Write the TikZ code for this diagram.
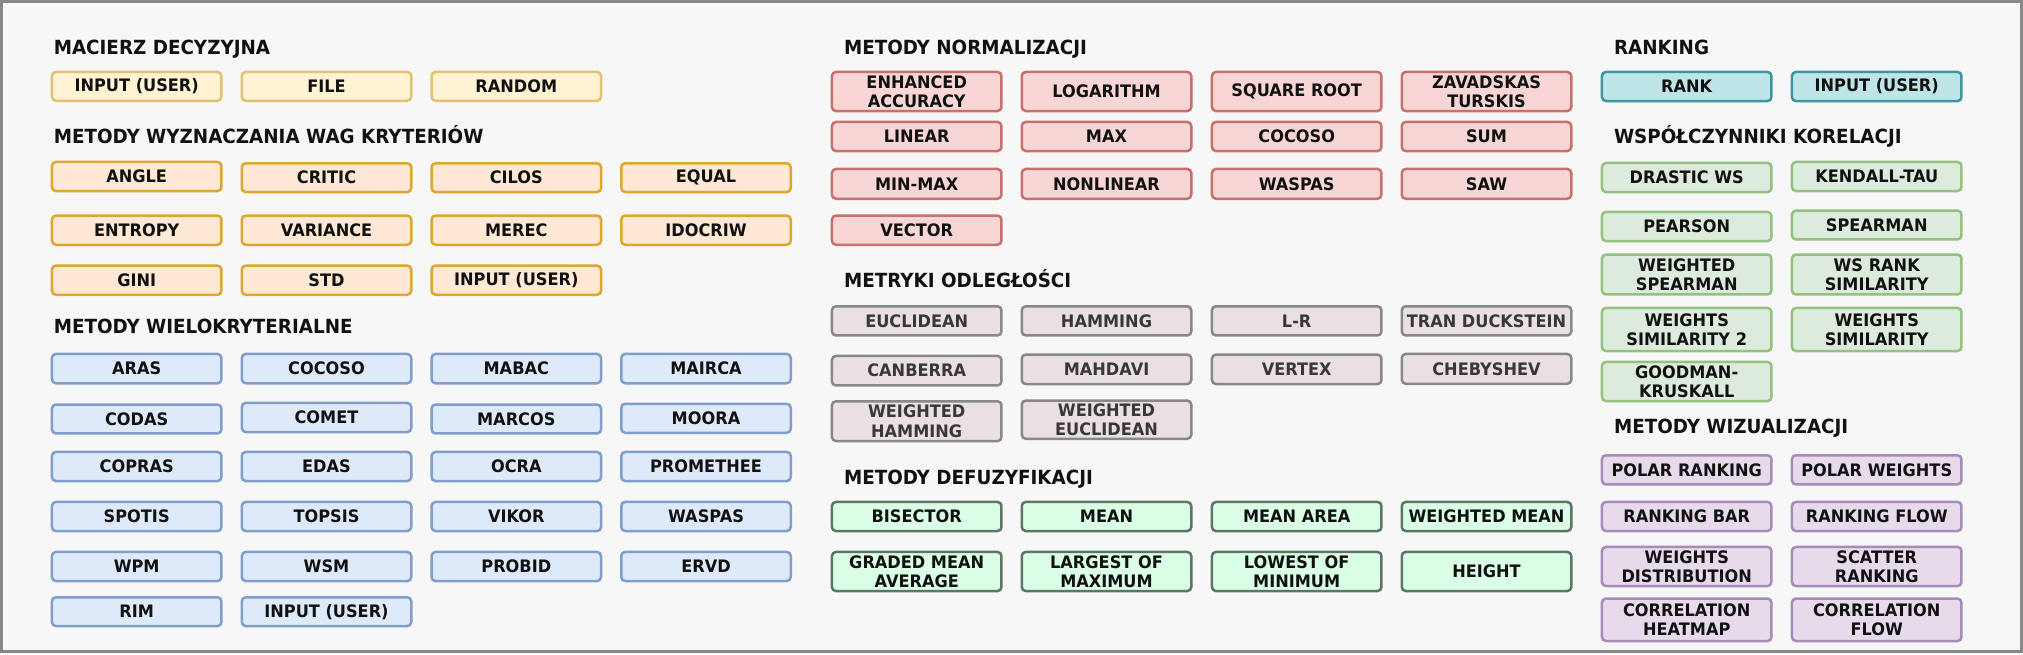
\documentclass[tikz,border=0pt]{standalone}
\usepackage{fontspec}
\setmainfont{DejaVu Sans}[FakeStretch=0.94]
\definecolor{bg}{HTML}{F7F7F7}
\definecolor{frameC}{HTML}{888888}
\definecolor{txt}{HTML}{111111}
\definecolor{txtG}{HTML}{383838}
\definecolor{yelF}{HTML}{FFF3D4}\definecolor{yelD}{HTML}{E0C270}
\definecolor{oraF}{HTML}{FFE9D4}\definecolor{oraD}{HTML}{DDA630}
\definecolor{bluF}{HTML}{DEEAFA}\definecolor{bluD}{HTML}{7F9ECB}
\definecolor{redF}{HTML}{F8D6D5}\definecolor{redD}{HTML}{C8706C}
\definecolor{gryF}{HTML}{EADFE5}\definecolor{gryD}{HTML}{888888}
\definecolor{mntF}{HTML}{DAFFE6}\definecolor{mntD}{HTML}{5E7565}
\definecolor{tealF}{HTML}{BEE6E9}\definecolor{tealD}{HTML}{3C969C}
\definecolor{grnF}{HTML}{DDEBDC}\definecolor{grnD}{HTML}{93C17E}
\definecolor{purF}{HTML}{E6DAEB}\definecolor{purD}{HTML}{A88BBB}
\newcommand\boxfont{\fontsize{17.2}{19.3}\selectfont\bfseries}
\newcommand\ttlfont{\fontsize{19.5}{22}\selectfont\bfseries}
\tikzset{
  box/.style={rounded corners=4pt, line width=2.5pt, inner sep=0pt, outer sep=0pt,
    minimum width=169.5pt, align=center, font=\boxfont, text=txt},
  yel/.style={box, draw=yelD, fill=yelF},
  ora/.style={box, draw=oraD, fill=oraF},
  blu/.style={box, draw=bluD, fill=bluF},
  red/.style={box, draw=redD, fill=redF},
  gry/.style={box, draw=gryD, fill=gryF, text=txtG},
  mnt/.style={box, draw=mntD, fill=mntF},
  teal/.style={box, draw=tealD, fill=tealF},
  grn/.style={box, draw=grnD, fill=grnF},
  pur/.style={box, draw=purD, fill=purF},
  ttl/.style={anchor=base west, inner sep=0pt, outer sep=0pt, font=\ttlfont, text=txt}
}
% name, style, left x, top y, bottom y, text
\newcommand\BoxAt[6]{\node[#2, minimum height={#5pt-#4pt-2.5pt}] (#1) at ({#3+86},{(#4+#5)/2}) {#6};}
\begin{document}
\begin{tikzpicture}[x=1pt,y=-1pt]
\useasboundingbox (0,0) rectangle (2023,654);
\fill[bg] (0,0) rectangle (2023,654);
\draw[frameC, line width=3pt] (1.5,1.5) rectangle (2021.5,651);
% ---------- column 1
\node[ttl] (t1) at (53.8,54) {MACIERZ DECYZYJNA};
\BoxAt{m1}{yel}{50.7}{70.7}{102}{INPUT (USER)}
\BoxAt{m2}{yel}{240.5}{70.7}{102}{FILE}
\BoxAt{m3}{yel}{430.3}{70.7}{102}{RANDOM}
\node[ttl] (t2) at (53.8,143.3) {METODY WYZNACZANIA WAG KRYTERIÓW};
\BoxAt{w1}{ora}{50.7}{160.7}{192.3}{ANGLE}
\BoxAt{w2}{ora}{240.5}{162}{193.3}{CRITIC}
\BoxAt{w3}{ora}{430.3}{162}{193.3}{CILOS}
\BoxAt{w4}{ora}{620}{162}{193.3}{EQUAL}
\BoxAt{w5}{ora}{50.7}{214.3}{246}{ENTROPY}
\BoxAt{w6}{ora}{240.5}{214.3}{246}{VARIANCE}
\BoxAt{w7}{ora}{430.3}{214.3}{246}{MEREC}
\BoxAt{w8}{ora}{620}{214.3}{246}{IDOCRIW}
\BoxAt{w9}{ora}{50.7}{264.3}{296}{GINI}
\BoxAt{w10}{ora}{240.5}{264.3}{296}{STD}
\BoxAt{w11}{ora}{430.3}{264.3}{296}{INPUT (USER)}
\node[ttl] (t3) at (53.8,333.3) {METODY WIELOKRYTERIALNE};
\BoxAt{c1}{blu}{50.7}{352.7}{384.5}{ARAS}
\BoxAt{c2}{blu}{240.5}{352.7}{384.5}{COCOSO}
\BoxAt{c3}{blu}{430.3}{352.7}{384.5}{MABAC}
\BoxAt{c4}{blu}{620}{352.7}{384.5}{MAIRCA}
\BoxAt{c5}{blu}{50.7}{403.3}{434.7}{CODAS}
\BoxAt{c6}{blu}{240.5}{401.7}{433.3}{COMET}
\BoxAt{c7}{blu}{430.3}{403.3}{434.7}{MARCOS}
\BoxAt{c8}{blu}{620}{402.5}{434}{MOORA}
\BoxAt{c9}{blu}{50.7}{450.7}{482.3}{COPRAS}
\BoxAt{c10}{blu}{240.5}{450.7}{482.3}{EDAS}
\BoxAt{c11}{blu}{430.3}{450.7}{482.3}{OCRA}
\BoxAt{c12}{blu}{620}{450.7}{482.3}{PROMETHEE}
\BoxAt{c13}{blu}{50.7}{500.7}{532.3}{SPOTIS}
\BoxAt{c14}{blu}{240.5}{500.7}{532.3}{TOPSIS}
\BoxAt{c15}{blu}{430.3}{500.7}{532.3}{VIKOR}
\BoxAt{c16}{blu}{620}{500.7}{532.3}{WASPAS}
\BoxAt{c17}{blu}{50.7}{550.7}{582.3}{WPM}
\BoxAt{c18}{blu}{240.5}{550.7}{582.3}{WSM}
\BoxAt{c19}{blu}{430.3}{550.7}{582.3}{PROBID}
\BoxAt{c20}{blu}{620}{550.7}{582.3}{ERVD}
\BoxAt{c21}{blu}{50.7}{596}{627.3}{RIM}
\BoxAt{c22}{blu}{240.5}{596}{627.3}{INPUT (USER)}
% ---------- column 2
\node[ttl] (t4) at (844,54) {METODY NORMALIZACJI};
\BoxAt{n1}{red}{830.7}{70.7}{112.3}{ENHANCED\\ACCURACY}
\BoxAt{n2}{red}{1020.5}{70.7}{112.3}{LOGARITHM}
\BoxAt{n3}{red}{1210.7}{70.7}{112.3}{SQUARE ROOT}
\BoxAt{n4}{red}{1400.5}{70.7}{112.3}{ZAVADSKAS\\TURSKIS}
\BoxAt{n5}{red}{830.7}{120.7}{152.3}{LINEAR}
\BoxAt{n6}{red}{1020.5}{120.7}{152.3}{MAX}
\BoxAt{n7}{red}{1210.7}{120.7}{152.3}{COCOSO}
\BoxAt{n8}{red}{1400.5}{120.7}{152.3}{SUM}
\BoxAt{n9}{red}{830.7}{167.7}{200}{MIN-MAX}
\BoxAt{n10}{red}{1020.5}{167.7}{200}{NONLINEAR}
\BoxAt{n11}{red}{1210.7}{167.7}{200}{WASPAS}
\BoxAt{n12}{red}{1400.5}{167.7}{200}{SAW}
\BoxAt{n13}{red}{830.7}{214.3}{246}{VECTOR}
\node[ttl] (t5) at (844,287.7) {METRYKI ODLEGŁOŚCI};
\BoxAt{d1}{gry}{830.7}{305}{336.7}{EUCLIDEAN}
\BoxAt{d2}{gry}{1020.5}{305}{336.7}{HAMMING}
\BoxAt{d3}{gry}{1210.7}{305}{336.7}{L-R}
\BoxAt{d4}{gry}{1400.5}{305}{336.7}{TRAN DUCKSTEIN}
\BoxAt{d5}{gry}{830.7}{354.7}{386.7}{CANBERRA}
\BoxAt{d6}{gry}{1020.5}{353.3}{385.3}{MAHDAVI}
\BoxAt{d7}{gry}{1210.7}{353.3}{385.3}{VERTEX}
\BoxAt{d8}{gry}{1400.5}{352.7}{385}{CHEBYSHEV}
\BoxAt{d9}{gry}{830.7}{400}{442.3}{WEIGHTED\\HAMMING}
\BoxAt{d10}{gry}{1020.5}{399.3}{440}{WEIGHTED\\EUCLIDEAN}
\node[ttl] (t6) at (844,484) {METODY DEFUZYFIKACJI};
\BoxAt{f1}{mnt}{830.7}{500.7}{532.3}{BISECTOR}
\BoxAt{f2}{mnt}{1020.5}{500.7}{532.3}{MEAN}
\BoxAt{f3}{mnt}{1210.7}{500.7}{532.3}{MEAN AREA}
\BoxAt{f4}{mnt}{1400.5}{500.7}{532.3}{WEIGHTED MEAN}
\BoxAt{f5}{mnt}{830.7}{550.7}{592.3}{GRADED MEAN\\AVERAGE}
\BoxAt{f6}{mnt}{1020.5}{550.7}{592.3}{LARGEST OF\\MAXIMUM}
\BoxAt{f7}{mnt}{1210.7}{550.7}{592.3}{LOWEST OF\\MINIMUM}
\BoxAt{f8}{mnt}{1400.5}{550.7}{592.3}{HEIGHT}
% ---------- column 3
\node[ttl] (t7) at (1614,54) {RANKING};
\BoxAt{r1}{teal}{1600.7}{70.7}{102.3}{RANK}
\BoxAt{r2}{teal}{1790.7}{70.7}{102.3}{INPUT (USER)}
\node[ttl] (t8) at (1614,143.3) {WSPÓŁCZYNNIKI KORELACJI};
\BoxAt{k1}{grn}{1600.7}{161.7}{193.3}{DRASTIC WS}
\BoxAt{k2}{grn}{1790.7}{160.7}{192.3}{KENDALL-TAU}
\BoxAt{k3}{grn}{1600.7}{210.7}{242.3}{PEARSON}
\BoxAt{k4}{grn}{1790.7}{209.3}{240.7}{SPEARMAN}
\BoxAt{k5}{grn}{1600.7}{253.3}{295.7}{WEIGHTED\\SPEARMAN}
\BoxAt{k6}{grn}{1790.7}{253.3}{295.7}{WS RANK\\SIMILARITY}
\BoxAt{k7}{grn}{1600.7}{306.7}{352.3}{WEIGHTS\\SIMILARITY 2}
\BoxAt{k8}{grn}{1790.7}{306.7}{352.3}{WEIGHTS\\SIMILARITY}
\BoxAt{k9}{grn}{1600.7}{360.7}{402.3}{GOODMAN-\\KRUSKALL}
\node[ttl] (t9) at (1614,433.5) {METODY WIZUALIZACJI};
\BoxAt{v1}{pur}{1600.7}{454}{485.7}{POLAR RANKING}
\BoxAt{v2}{pur}{1790.7}{454}{485.7}{POLAR WEIGHTS}
\BoxAt{v3}{pur}{1600.7}{500.7}{532.3}{RANKING BAR}
\BoxAt{v4}{pur}{1790.7}{500.7}{532.3}{RANKING FLOW}
\BoxAt{v5}{pur}{1600.7}{545.7}{587.3}{WEIGHTS\\DISTRIBUTION}
\BoxAt{v6}{pur}{1790.7}{545.7}{587.3}{SCATTER\\RANKING}
\BoxAt{v7}{pur}{1600.7}{597.3}{642.3}{CORRELATION\\HEATMAP}
\BoxAt{v8}{pur}{1790.7}{597.3}{642.3}{CORRELATION\\FLOW}
\end{tikzpicture}
\end{document}
